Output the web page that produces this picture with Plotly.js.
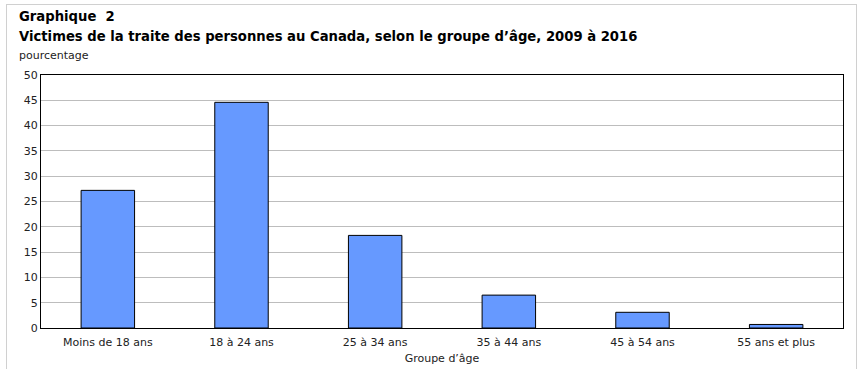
<!DOCTYPE html>
<html>
<head>
<meta charset="utf-8">
<script src="https://cdn.plot.ly/plotly-3.0.1.min.js"></script>
<style>
html,body{margin:0;padding:0;background:#fff;}
#frame{position:absolute;left:6px;top:4px;width:851px;height:380px;border:1px solid #d0d0d0;box-sizing:border-box;}
#chart{position:absolute;left:0;top:0;width:863px;height:369px;}
</style>
</head>
<body>
<div id="frame"></div>
<div id="chart"></div>
<script>
const categories = ["Moins de 18 ans", "18 à 24 ans", "25 à 34 ans", "35 à 44 ans", "45 à 54 ans", "55 ans et plus"];
const values = [27.2, 44.6, 18.3, 6.5, 3.1, 0.7];
const yTicks = [0, 5, 10, 15, 20, 25, 30, 35, 40, 45, 50];
const titleLine1 = "Graphique  2";
const titleLine2 = "Victimes de la traite des personnes au Canada, selon le groupe d’âge, 2009 à 2016";
const yLabel = "pourcentage";
const xLabel = "Groupe d’âge";

const font = "DejaVu Sans, Verdana, sans-serif";

const trace = {
  type: "bar",
  x: categories,
  y: values,
  marker: {color: "#6699ff", line: {color: "#000", width: 1}},
  hoverinfo: "x+y"
};

const layout = {
  width: 863, height: 369,
  margin: {l: 41, r: 20, t: 75, b: 41, pad: 0},
  paper_bgcolor: "rgba(0,0,0,0)",
  plot_bgcolor: "#fff",
  bargap: 0.6,
  showlegend: false,
  font: {family: font, size: 11, color: "#222"},
  xaxis: {
    type: "category",
    showline: true, linecolor: "#000", linewidth: 1, mirror: true,
    ticks: "", showgrid: false,
    ticklabelstandoff: 4,
    tickfont: {size: 11, color: "#222"},
    title: {text: xLabel, font: {size: 11, color: "#222"}, standoff: 6}
  },
  yaxis: {
    range: [0, 50],
    tickvals: yTicks,
    showline: true, linecolor: "#000", linewidth: 1, mirror: true,
    ticks: "", showgrid: true, gridcolor: "#bdbdbd", gridwidth: 1,
    zeroline: false,
    tickfont: {size: 11, color: "#222"},
    fixedrange: true
  },
  annotations: [
    {text: "<b>" + titleLine1 + "</b>", xref: "paper", yref: "paper", x: 0, y: 1, xanchor: "left", yanchor: "bottom", xshift: -24, yshift: 49, showarrow: false, font: {size: 13.2, color: "#000", family: font}},
    {text: "<b>" + titleLine2 + "</b>", xref: "paper", yref: "paper", x: 0, y: 1, xanchor: "left", yanchor: "bottom", xshift: -24, yshift: 29, showarrow: false, font: {size: 13.2, color: "#000", family: font}},
    {text: yLabel, xref: "paper", yref: "paper", x: 0, y: 1, xanchor: "left", yanchor: "bottom", xshift: -24, yshift: 11, showarrow: false, font: {size: 11, color: "#222", family: font}}
  ]
};

Plotly.newPlot("chart", [trace], layout, {displayModeBar: false, staticPlot: true});
</script>
</body>
</html>
